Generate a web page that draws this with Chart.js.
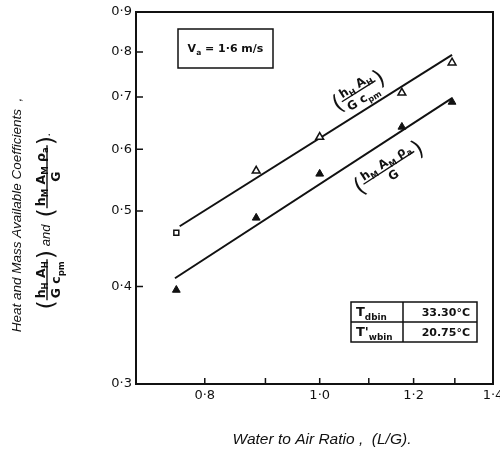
<!DOCTYPE html>
<html>
<head>
<meta charset="utf-8">
<script src="https://cdn.jsdelivr.net/npm/chart.js@4"></script>
<style>
  html, body { margin: 0; padding: 0; background: #fff; }
  #wrap { width: 500px; height: 454px; }
</style>
</head>
<body>
<div id="wrap"><canvas id="c" width="500" height="454"></canvas></div>
<script>
// Water-to-air ratio (L/G) at each test run
const ratioLG = [0.757, 0.884, 1.0, 1.173, 1.293];
// Heat available coefficient  hH·AH / (G·cpm)
const heatCoef = [0.469, 0.563, 0.622, 0.709, 0.775];
// Mass available coefficient  hM·AM·ρa / G
const massCoef = [0.396, 0.490, 0.558, 0.641, 0.690];
// Fitted straight lines (log-log), end points
const heatFitLG = [0.762, 1.293];
const heatFitCoef = [0.478, 0.793];
const massFitLG = [0.755, 1.293];
const massFitCoef = [0.410, 0.698];
// Axis ticks
const xTickValues = [0.7, 0.8, 0.9, 1.0, 1.1, 1.2, 1.3, 1.4];
const xLabelledTicks = [0.8, 1.0, 1.2, 1.4];
const yTickValues = [0.3, 0.4, 0.5, 0.6, 0.7, 0.8, 0.9];
// Marker shapes for the heat series
const heatMarkers = ['rect', 'triangle', 'triangle', 'triangle', 'triangle'];
// Test conditions
const airVelocity = '1·6 m/s';
const inletConditions = [
  ['T', 'dbin', '33.30°C'],
  ["T'", 'wbin', '20.75°C']
];

const INK = '#111';
const fmt = v => v.toFixed(1).replace('.', '·');
const near = (a, b) => Math.abs(a - b) < 1e-6;

// --- small text helpers (subscripts, fractions) ---
function setFont(ctx, style, size) {
  ctx.font = `${style} ${size}px "DejaVu Sans"`;
}
function richWidth(ctx, segs, size, style) {
  let w = 0;
  for (const [t, sub] of segs) {
    setFont(ctx, style, sub ? size * 0.68 : size);
    w += ctx.measureText(t).width;
  }
  return w;
}
function drawRich(ctx, segs, x, y, size, style) {
  ctx.textBaseline = 'alphabetic';
  ctx.textAlign = 'left';
  for (const [t, sub] of segs) {
    const s = sub ? size * 0.68 : size;
    setFont(ctx, style, s);
    ctx.fillText(t, x, sub ? y + size * 0.28 : y);
    x += ctx.measureText(t).width;
  }
  return x;
}
function fractionWidth(ctx, num, den, size, style) {
  setFont(ctx, 'normal', size * 1.9);
  const pw = ctx.measureText('(').width;
  return 2 * pw + Math.max(richWidth(ctx, num, size, style), richWidth(ctx, den, size, style)) + 4;
}
// draws "( num / den )" with its fraction bar on line y, starting at x
function drawFraction(ctx, num, den, x, y, size, style) {
  const wn = richWidth(ctx, num, size, style);
  const wd = richWidth(ctx, den, size, style);
  const inner = Math.max(wn, wd) + 4;
  setFont(ctx, 'normal', size * 1.9);
  const pw = ctx.measureText('(').width;
  ctx.textBaseline = 'middle';
  ctx.textAlign = 'left';
  ctx.fillText('(', x, y + 1);
  ctx.fillText(')', x + pw + inner, y + 1);
  const cx = x + pw;
  drawRich(ctx, num, cx + (inner - wn) / 2, y - 2.5, size, style);
  drawRich(ctx, den, cx + (inner - wd) / 2, y + size + 0.5, size, style);
  ctx.beginPath();
  ctx.lineWidth = 1.4;
  ctx.moveTo(cx, y);
  ctx.lineTo(cx + inner, y);
  ctx.stroke();
  return 2 * pw + inner;
}

const heatNum = [['h', 0], ['H', 1], [' A', 0], ['H', 1]];
const heatDen = [['G c', 0], ['pm', 1]];
const massNum = [['h', 0], ['M', 1], [' A', 0], ['M', 1], [' ρ', 0], ['a', 1]];
const massDen = [['G', 0]];

// Annotation layer: inward ticks, frame, labels, boxes, titles
const annotations = {
  id: 'annotations',
  afterDatasetsDraw(chart) {
    const { ctx, chartArea: a, scales: { x, y } } = chart;
    ctx.save();
    ctx.strokeStyle = INK;
    ctx.fillStyle = INK;

    // frame top and right
    ctx.lineWidth = 2;
    ctx.beginPath();
    ctx.moveTo(a.left, a.top);
    ctx.lineTo(a.right, a.top);
    ctx.lineTo(a.right, a.bottom);
    ctx.stroke();

    // inward tick marks
    ctx.lineWidth = 1.5;
    ctx.beginPath();
    for (const v of xTickValues.slice(1, -1)) {
      const px = x.getPixelForValue(v);
      ctx.moveTo(px, a.bottom);
      ctx.lineTo(px, a.bottom - 6);
    }
    for (const v of yTickValues.slice(1, -1)) {
      const py = y.getPixelForValue(v);
      ctx.moveTo(a.left, py);
      ctx.lineTo(a.left + 7, py);
    }
    ctx.stroke();

    // line labels, rotated along each fitted line
    const lineLabel = (fx, fy, at, offset, num, den) => {
      const x0 = x.getPixelForValue(fx[0]), y0 = y.getPixelForValue(fy[0]);
      const x1 = x.getPixelForValue(fx[1]), y1 = y.getPixelForValue(fy[1]);
      const ang = Math.atan2(y1 - y0, x1 - x0);
      const t = (Math.log(at) - Math.log(fx[0])) / (Math.log(fx[1]) - Math.log(fx[0]));
      const px = x0 + t * (x1 - x0), py = y0 + t * (y1 - y0);
      ctx.save();
      ctx.translate(px, py);
      ctx.rotate(ang);
      const w = fractionWidth(ctx, num, den, 12, 'bold');
      drawFraction(ctx, num, den, -w / 2, offset, 12, 'bold');
      ctx.restore();
    };
    lineLabel(heatFitLG, heatFitCoef, 1.10, -19, heatNum, heatDen);
    lineLabel(massFitLG, massFitCoef, 1.115, 24, massNum, massDen);

    // air velocity box
    ctx.lineWidth = 1.5;
    ctx.strokeRect(a.left + 42, a.top + 17, 95, 39);
    {
      const segs = [['V', 0], ['a', 1], [' = ' + airVelocity, 0]];
      const w = richWidth(ctx, segs, 11, 'bold');
      drawRich(ctx, segs, a.left + 42 + (95 - w) / 2, a.top + 40, 11, 'bold');
    }

    // inlet conditions table
    const tx = a.left + 215, ty = a.top + 290, tw = 126, rh = 20, c1 = 52;
    ctx.lineWidth = 1.5;
    ctx.strokeRect(tx, ty, tw, rh * inletConditions.length);
    ctx.beginPath();
    ctx.moveTo(tx, ty + rh);
    ctx.lineTo(tx + tw, ty + rh);
    ctx.moveTo(tx + c1, ty);
    ctx.lineTo(tx + c1, ty + rh * inletConditions.length);
    ctx.stroke();
    inletConditions.forEach(([sym, sub, val], i) => {
      const base = ty + rh * i + 14;
      drawRich(ctx, [[sym, 0], [sub, 1]], tx + 5, base, 13, 'bold');
      setFont(ctx, 'bold', 11);
      ctx.textAlign = 'right';
      ctx.fillText(val, tx + tw - 7, base);
    });

    // y-axis title (two lines, rotated)
    ctx.save();
    ctx.translate(17, 215);
    ctx.rotate(-Math.PI / 2);
    ctx.textAlign = 'center';
    ctx.textBaseline = 'middle';
    ctx.font = 'italic 13.5px "Liberation Sans"';
    ctx.fillText('Heat and Mass Available Coefficients  ,', 0, 0);
    ctx.restore();

    ctx.save();
    ctx.translate(47, 221);
    ctx.rotate(-Math.PI / 2);
    const fs = 12.5;
    const f1 = fractionWidth(ctx, heatNum, heatDen, fs, 'bold');
    const f2 = fractionWidth(ctx, massNum, massDen, fs, 'bold');
    ctx.font = 'italic 13px "Liberation Sans"';
    const andW = ctx.measureText(' and  ').width;
    const dotW = ctx.measureText('.').width;
    let sx = -(f1 + andW + f2 + dotW) / 2;
    sx += drawFraction(ctx, heatNum, heatDen, sx, 0, fs, 'bold');
    ctx.font = 'italic 13px "Liberation Sans"';
    ctx.textAlign = 'left';
    ctx.textBaseline = 'alphabetic';
    ctx.fillText(' and  ', sx, 3);
    sx += andW;
    sx += drawFraction(ctx, massNum, massDen, sx, 0, fs, 'bold');
    ctx.font = 'italic 13px "Liberation Sans"';
    ctx.textBaseline = 'alphabetic';
    ctx.fillText('.', sx, 3);
    ctx.restore();

    // x-axis title
    ctx.font = 'italic 15.5px "Liberation Sans"';
    ctx.textAlign = 'center';
    ctx.textBaseline = 'middle';
    ctx.fillText('Water to Air Ratio ,  (L/G).', 322, 440);

    ctx.restore();
  }
};

new Chart(document.getElementById('c'), {
  type: 'scatter',
  data: {
    datasets: [
      {
        data: heatFitLG.map((v, i) => ({ x: v, y: heatFitCoef[i] })),
        showLine: true, borderColor: INK, borderWidth: 2, pointRadius: 0, order: 3
      },
      {
        data: massFitLG.map((v, i) => ({ x: v, y: massFitCoef[i] })),
        showLine: true, borderColor: INK, borderWidth: 2, pointRadius: 0, order: 2
      },
      {
        data: ratioLG.map((v, i) => ({ x: v, y: heatCoef[i] })),
        pointStyle: heatMarkers, pointRadius: [3.5, 4.5, 4.5, 4.5, 4.5],
        backgroundColor: '#fff', borderColor: INK, borderWidth: 1.5, order: 1
      },
      {
        data: ratioLG.map((v, i) => ({ x: v, y: massCoef[i] })),
        pointStyle: 'triangle', pointRadius: 4.5,
        backgroundColor: INK, borderColor: INK, borderWidth: 1, order: 0
      }
    ]
  },
  options: {
    responsive: false,
    animation: false,
    events: [],
    layout: { padding: { left: 0, top: 12, right: 7, bottom: 0 }, autoPadding: false },
    plugins: { legend: { display: false }, tooltip: { enabled: false } },
    scales: {
      x: {
        type: 'logarithmic', min: 0.7, max: 1.4,
        afterBuildTicks: s => { s.ticks = xTickValues.map(v => ({ value: v })); },
        afterFit: s => { s.height = 70; s.paddingRight = 0; s.paddingLeft = 0; },
        grid: { display: false, drawTicks: false },
        border: { display: true, color: INK, width: 2 },
        ticks: {
          autoSkip: false, maxRotation: 0, minRotation: 0, padding: 4, color: INK,
          font: { family: 'DejaVu Sans', size: 13 },
          callback: v => xLabelledTicks.some(t => near(t, v)) ? fmt(v) : ''
        }
      },
      y: {
        type: 'logarithmic', min: 0.3, max: 0.9,
        afterBuildTicks: s => { s.ticks = yTickValues.map(v => ({ value: v })); },
        afterFit: s => { s.width = 136; },
        grid: { display: false, drawTicks: false },
        border: { display: true, color: INK, width: 2 },
        ticks: {
          autoSkip: false, padding: 4, color: INK,
          font: { family: 'DejaVu Sans', size: 13 },
          callback: v => fmt(v)
        }
      }
    }
  },
  plugins: [annotations]
});
</script>
</body>
</html>
